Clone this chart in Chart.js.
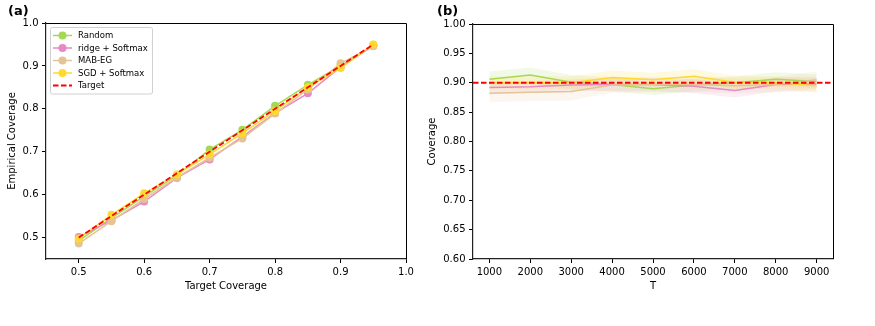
<!DOCTYPE html>
<html><head><meta charset="utf-8">
<script src="https://cdn.jsdelivr.net/npm/chart.js@4.4.1/dist/chart.umd.min.js"></script>
<style>
html,body{margin:0;padding:0;background:#fff;width:875px;height:326px;overflow:hidden;font-family:"DejaVu Sans",sans-serif;}
.box{position:absolute;top:0;height:326px;}
.lbl{position:absolute;font:bold 13px "DejaVu Sans",sans-serif;color:#000;}
</style></head><body>
<div class="box" style="left:0;width:430px"><canvas id="ca" width="430" height="326"></canvas></div>
<div class="box" style="left:420px;width:455px"><canvas id="cb" width="455" height="326"></canvas></div>
<div class="lbl" style="left:8px;top:3px">(a)</div>
<div class="lbl" style="left:437px;top:3px">(b)</div>
<script>
// ---------- data panel (a) ----------
const targetCov = [0.5,0.55,0.6,0.65,0.7,0.75,0.8,0.85,0.9,0.95];
const randomA = [0.492,0.545,0.596,0.645,0.705,0.751,0.807,0.856,0.900,0.948];
const ridgeA  = [0.501,0.540,0.584,0.639,0.682,0.735,0.790,0.836,0.897,0.947];
const mabA    = [0.486,0.538,0.590,0.640,0.686,0.731,0.789,0.845,0.906,0.946];
const sgdA    = [0.498,0.553,0.603,0.647,0.694,0.743,0.795,0.850,0.895,0.950];
const xTicksA = [0.5,0.6,0.7,0.8,0.9,1.0];
const yTicksA = [0.5,0.6,0.7,0.8,0.9,1.0];
// ---------- data panel (b) ----------
const T = [1000,2000,3000,4000,5000,6000,7000,8000,9000];
const randomB = [0.906,0.913,0.901,0.897,0.890,0.896,0.900,0.906,0.902];
const ridgeB  = [0.892,0.893,0.896,0.897,0.897,0.894,0.887,0.897,0.898];
const mabB    = [0.882,0.884,0.885,0.896,0.897,0.897,0.895,0.897,0.905];
const sgdB    = [0.900,0.900,0.900,0.909,0.905,0.911,0.901,0.900,0.895];
const randomSd = [0.013,0.013,0.012,0.012,0.011,0.011,0.011,0.012,0.012];
const ridgeSd  = [0.010,0.010,0.010,0.011,0.011,0.012,0.012,0.012,0.012];
const mabSd    = [0.015,0.015,0.015,0.013,0.013,0.013,0.013,0.013,0.014];
const sgdSd    = [0.011,0.011,0.011,0.012,0.012,0.012,0.011,0.011,0.012];
const targetLevel = 0.9;
const xTicksB = [1000,2000,3000,4000,5000,6000,7000,8000,9000];
const yTicksB = [0.60,0.65,0.70,0.75,0.80,0.85,0.90,0.95,1.00];
const names = ['Random','ridge + Softmax','MAB-EG','SGD + Softmax'];

const COL = {random:'#a6d854', ridge:'#e78ac3', mab:'#e5c494', sgd:'#ffd92f'};
function rgba(hex,a){const n=parseInt(hex.slice(1),16);return `rgba(${n>>16},${(n>>8)&255},${n&255},${a})`;}
const FONT = {family:'"DejaVu Sans", sans-serif', size:10};

const frame = {
  id:'frame',
  afterDraw(chart){
    const {ctx, chartArea:a} = chart;
    ctx.save(); ctx.strokeStyle='#000'; ctx.lineWidth=1;
    ctx.beginPath();
    ctx.moveTo(a.left, a.top+0.5); ctx.lineTo(a.right+0.5, a.top+0.5); ctx.lineTo(a.right+0.5, a.bottom);
    ctx.stroke(); ctx.restore();
  }
};

const legendIn = {
  id:'legendIn',
  afterDatasetsDraw(chart){
    const {ctx, chartArea:a} = chart;
    const items = chart.data.datasets.filter(d=>d.label);
    const x0=a.left+4, y0=a.top+4, w=102, rowH=12.5, h=items.length*rowH+4;
    ctx.save();
    ctx.fillStyle='rgba(255,255,255,0.85)'; ctx.strokeStyle='#d0d0d0'; ctx.lineWidth=1;
    ctx.beginPath(); ctx.roundRect(x0+0.5,y0+0.5,w,h,2); ctx.fill(); ctx.stroke();
    items.forEach((d,i)=>{
      const cy = y0+8.5+i*rowH;
      ctx.strokeStyle=d.borderColor; ctx.lineWidth=d.borderWidth;
      ctx.setLineDash(d.borderDash||[]);
      ctx.beginPath(); ctx.moveTo(x0+3,cy); ctx.lineTo(x0+22,cy); ctx.stroke();
      ctx.setLineDash([]);
      if(d.pointRadius>0){ctx.fillStyle=d.pointBackgroundColor; ctx.beginPath(); ctx.arc(x0+12.5,cy,4,0,Math.PI*2); ctx.fill();}
      ctx.fillStyle='#000'; ctx.font='8.5px "DejaVu Sans", sans-serif'; ctx.textBaseline='middle';
      ctx.fillText(d.label, x0+28, cy+0.5);
    });
    ctx.restore();
  }
};

function axisCommon(ticksArr, fmt){
  return {
    afterBuildTicks(s){ s.ticks = ticksArr.map(v=>({value:v})); },
    grid:{drawOnChartArea:false, drawTicks:true, tickLength:4, color:'#000', lineWidth:1},
    border:{display:true, color:'#222', width:1.2},
    ticks:{color:'#000', font:FONT, padding:3.5, autoSkip:false, maxRotation:0, callback:fmt}
  };
}

const lineDs = (label, data, color, order) => ({
  label, data, order, borderColor:color, backgroundColor:color, pointBackgroundColor:color,
  borderWidth:1.5, pointRadius:4, pointBorderWidth:0, pointHoverRadius:4, fill:false, tension:0
});

// ---------- chart (a) ----------
const xy = arr => arr.map((v,i)=>({x:targetCov[i], y:v}));
new Chart(document.getElementById('ca'), {
  type:'line',
  data:{datasets:[
    lineDs(names[0], xy(randomA), COL.random, 4),
    lineDs(names[1], xy(ridgeA), COL.ridge, 3),
    lineDs(names[2], xy(mabA), COL.mab, 2),
    lineDs(names[3], xy(sgdA), COL.sgd, 1),
    {label:'Target', order:0, data:targetCov.map(v=>({x:v,y:v})), borderColor:'#ff0000', borderWidth:1.8,
     borderDash:[5.5,2.5], pointRadius:0, fill:false}
  ]},
  options:{
    responsive:false, animation:false, events:[],
    layout:{padding:{left:0, top:23, right:24, bottom:27}},
    plugins:{legend:{display:false}, tooltip:{enabled:false}},
    scales:{
      x:Object.assign(axisCommon(xTicksA, v=>v.toFixed(1)), {
        type:'linear', min:0.45, max:1.0,
        afterFit(s){s.height=40;},
        title:{display:true, text:'Target Coverage', color:'#000', font:FONT, padding:{top:0,bottom:7}}
      }),
      y:Object.assign(axisCommon(yTicksA, v=>v.toFixed(1)), {
        type:'linear', min:0.45, max:1.0,
        afterFit(s){s.width=46;},
        title:{display:true, text:'Empirical Coverage', color:'#000', font:FONT, padding:{top:6,bottom:0}}
      })
    }
  },
  plugins:[frame, legendIn]
});

// ---------- chart (b) ----------
const xMinB = 600, xMaxB = 9400;
const ptsB = arr => arr.map((v,i)=>({x:T[i], y:v}));
const bandDs = (mean, sd, color, order) => ([
  {data:mean.map((m,i)=>({x:T[i], y:m-sd[i]})), order, borderWidth:0, pointRadius:0, fill:false, borderColor:'rgba(0,0,0,0)'},
  {data:mean.map((m,i)=>({x:T[i], y:m+sd[i]})), order, borderWidth:0, pointRadius:0, fill:'-1', borderColor:'rgba(0,0,0,0)', backgroundColor:rgba(color,0.15)}
]);
const lineB = (data,color,order)=>({data:ptsB(data), order, borderColor:color, borderWidth:1.5, pointRadius:0, fill:false, tension:0});
new Chart(document.getElementById('cb'), {
  type:'line',
  data:{datasets:[
    ...bandDs(randomB, randomSd, COL.random, 8),
    ...bandDs(ridgeB, ridgeSd, COL.ridge, 7),
    ...bandDs(mabB, mabSd, COL.mab, 6),
    ...bandDs(sgdB, sgdSd, COL.sgd, 5),
    lineB(randomB, COL.random, 4),
    lineB(ridgeB, COL.ridge, 3),
    lineB(mabB, COL.mab, 2),
    lineB(sgdB, COL.sgd, 1),
    {data:[{x:xMinB,y:targetLevel},{x:xMaxB,y:targetLevel}], order:0, borderColor:'#ff0000', borderWidth:1.8,
     borderDash:[5.5,2.5], pointRadius:0, fill:false}
  ]},
  options:{
    responsive:false, animation:false, events:[],
    layout:{padding:{left:0, top:24, right:42, bottom:27}},
    plugins:{legend:{display:false}, tooltip:{enabled:false}, filler:{propagate:false, drawTime:'beforeDatasetsDraw'}},
    scales:{
      x:Object.assign(axisCommon(xTicksB, v=>String(v)), {
        type:'linear', min:xMinB, max:xMaxB,
        afterFit(s){s.height=40;},
        title:{display:true, text:'T', color:'#000', font:FONT, padding:{top:0,bottom:7}}
      }),
      y:Object.assign(axisCommon(yTicksB, v=>v.toFixed(2)), {
        type:'linear', min:0.6, max:1.0,
        afterFit(s){s.width=53;},
        title:{display:true, text:'Coverage', color:'#000', font:FONT, padding:{top:6,bottom:0}}
      })
    }
  },
  plugins:[frame]
});
</script>
</body></html>
